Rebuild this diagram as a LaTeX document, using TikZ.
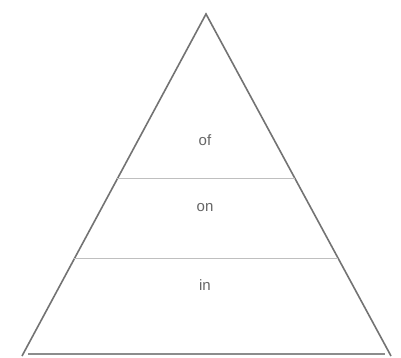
\documentclass[tikz,border=0pt]{standalone}
\usepackage{fontspec}
\setmainfont{Liberation Sans}
\usetikzlibrary{calc}
\begin{document}
\begin{tikzpicture}[x=1pt,y=-1pt,
  side/.style={draw=black!55,line width=1.6pt},
  divider/.style={draw=black!25,line width=1pt},
  lbl/.style={text=black!60,font=\fontsize{15}{15}\selectfont,inner sep=0pt}]
\useasboundingbox[fill=white] (0,0) rectangle (401,358);
\coordinate (top) at (206,14);
\coordinate (bl) at (22,356);
\coordinate (br) at (391,356);
\draw[side,line join=miter] (bl) -- (top) -- (br);
\draw[draw=black!45,line width=2.5pt] (28,354) -- (385,354);
\draw[divider] ($(top)!0.481!(bl)$) coordinate (l1) -- ($(top)!0.481!(br)$) coordinate (r1);
\draw[divider] ($(top)!0.715!(bl)$) coordinate (l2) -- ($(top)!0.715!(br)$) coordinate (r2);
\node[lbl] (of) at (205,140) {of};
\node[lbl] (on) at (205,208) {on};
\node[lbl] (in) at (205,285) {in};
\end{tikzpicture}
\end{document}
